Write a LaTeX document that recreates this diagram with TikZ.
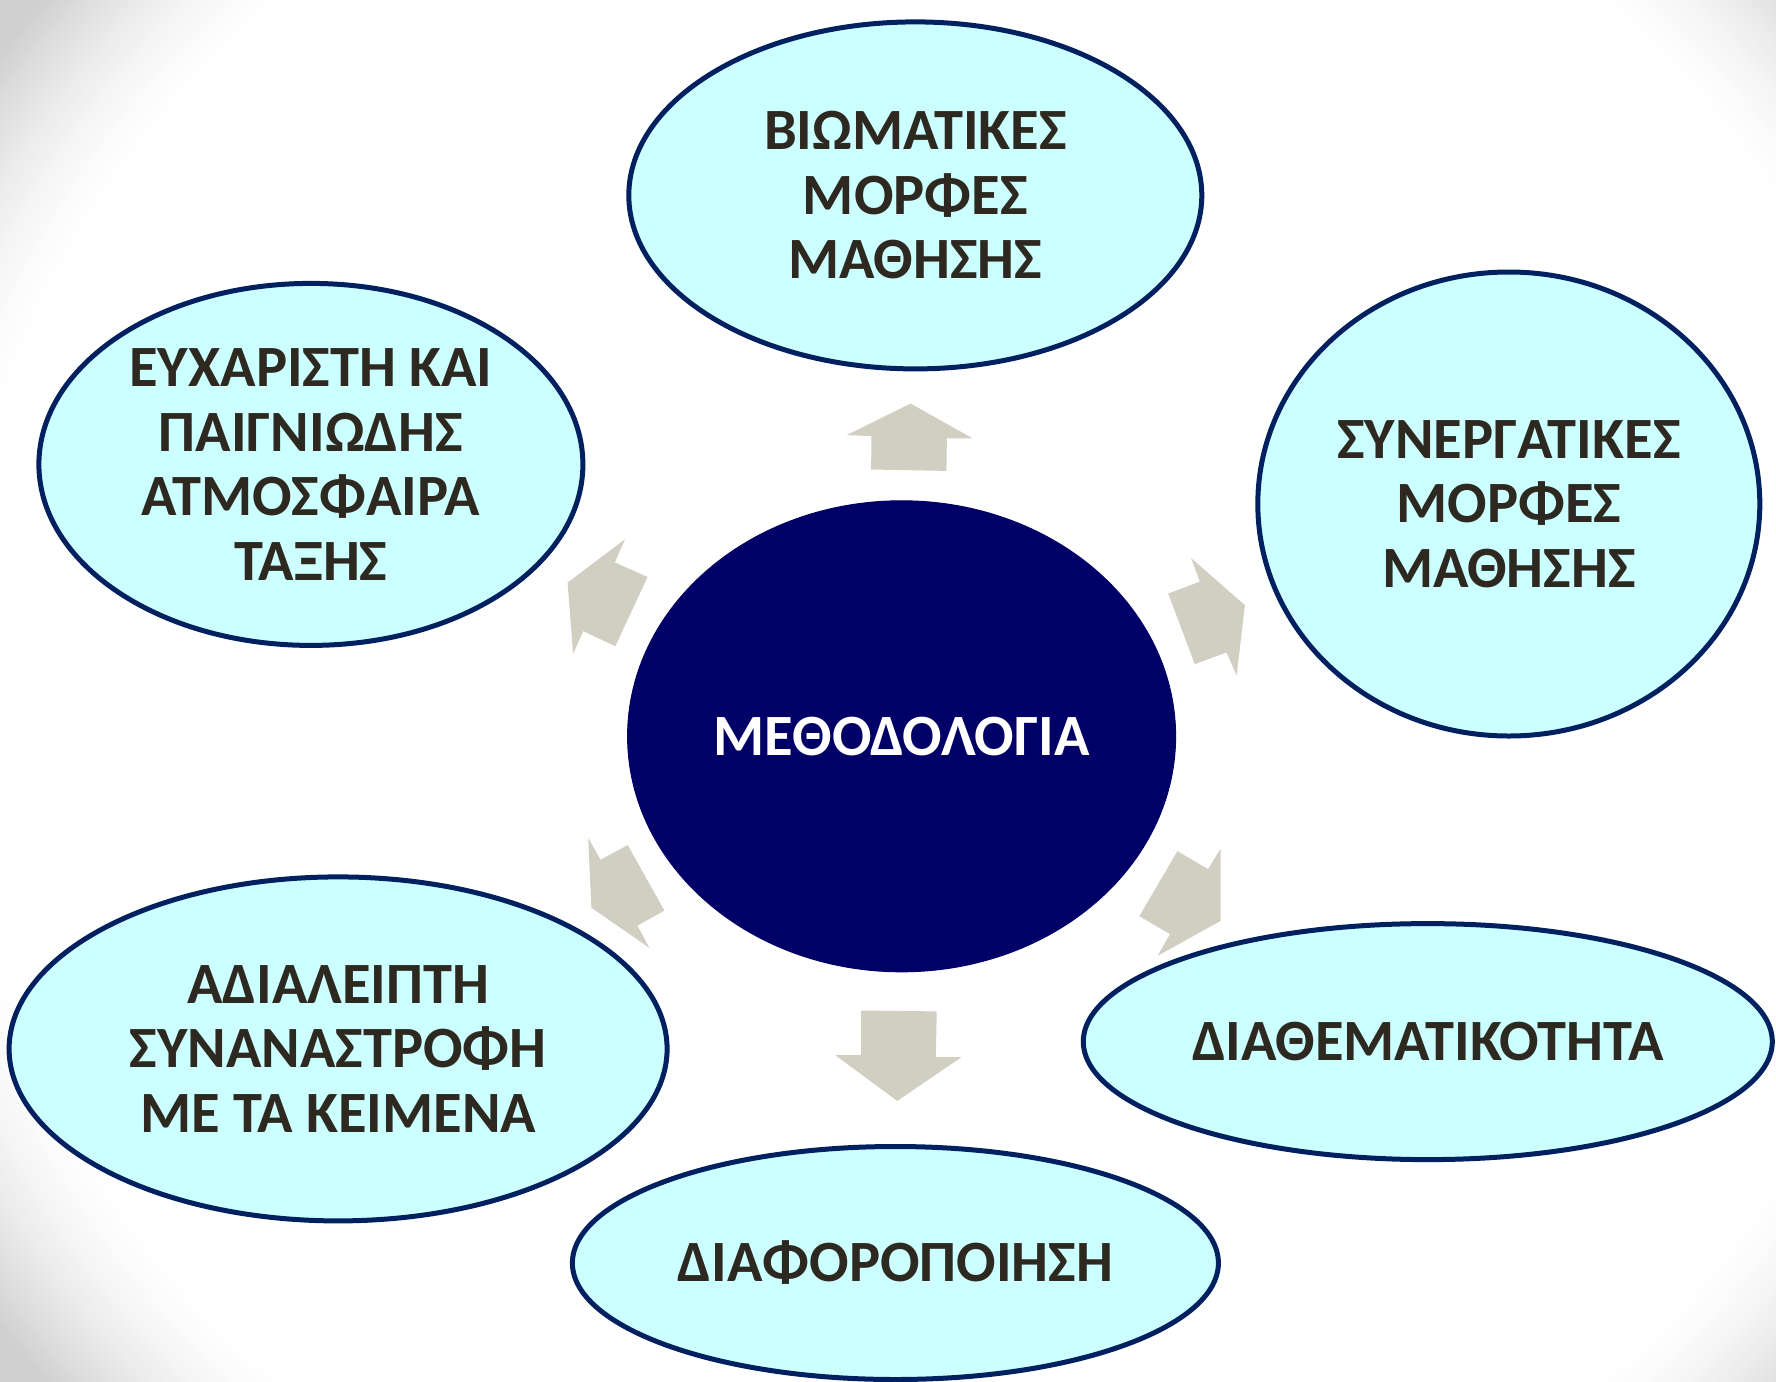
\documentclass[tikz,border=0pt]{standalone}
\usepackage{fontspec}
\setmainfont{Carlito}
\usetikzlibrary{shapes.geometric}
\definecolor{bggray}{RGB}{208,208,208}
\definecolor{bubblefill}{RGB}{204,255,255}
\definecolor{bubbleline}{RGB}{0,32,96}
\definecolor{hubfill}{RGB}{0,0,102}
\definecolor{textdark}{RGB}{46,41,32}
\definecolor{arrowfill}{RGB}{208,207,194}
\begin{document}
\begin{tikzpicture}[x=1pt,y=-1pt,
  bubble/.style={ellipse, draw=bubbleline, line width=5pt, fill=bubblefill, text=textdark,
    inner sep=-20pt, align=center, font=\fontsize{58.5}{64.5}\selectfont\bfseries},
  hub/.style={ellipse, draw=hubfill, line width=1pt, fill=hubfill, text=white,
    inner sep=-20pt, align=center, font=\fontsize{58.5}{64.5}\selectfont\bfseries},
  blockarrow/.style={fill=arrowfill}]
\clip (0,0) rectangle (1776,1381);
% background: soft grey corners fading to white
\foreach \i in {0,...,50}{
  \pgfmathsetmacro{\dd}{1.1-\i*0.00514}
  \pgfmathsetmacro{\tt}{min(1,max(0.0001,(\dd-0.843)/0.157))}
  \pgfmathsetmacro{\pc}{100*pow(\tt,1.6)}
  \fill[bggray!\pc!white] (940,690.5) ellipse [x radius={1158.7*\dd}, y radius={1095.7*\dd}];
}

% block arrows
\fill[blockarrow] (910.6,403.6) -- (972.6,438.4) -- (946.9,438.4) -- (946.4,470.9) -- (871.1,469.5) -- (871.5,436.1) -- (846.7,435.1) -- cycle;
\fill[blockarrow] (567.6,582.6) -- (625.0,539.3) -- (614.8,562.4) -- (647.5,577.0) -- (615.3,646.2) -- (583.2,631.1) -- (573.1,653.8) -- cycle;
\fill[blockarrow] (1244.9,605.2) -- (1236.6,675.4) -- (1226.5,652.4) -- (1194.8,664.1) -- (1168.2,593.5) -- (1199.9,581.7) -- (1191.1,558.1) -- cycle;
\fill[blockarrow] (1220.5,920.9) -- (1157.6,955.8) -- (1170.0,934.1) -- (1139.3,916.2) -- (1177.4,851.2) -- (1208.1,869.1) -- (1220.5,848.8) -- cycle;
\fill[blockarrow] (897.3,1100.9) -- (835.3,1055.2) -- (861.0,1055.2) -- (861.0,1010.5) -- (936.7,1011.4) -- (935.8,1057.1) -- (961.5,1057.1) -- cycle;
\fill[blockarrow] (591.4,907.7) -- (588.2,838.0) -- (600.6,859.7) -- (627.7,845.1) -- (664.4,910.6) -- (637.4,925.6) -- (649.3,947.8) -- cycle;

% ellipses
\node[hub, minimum width=548pt, minimum height=471pt] (hubnode) at (901.6,736.3) {ΜΕΘΟΔΟΛΟΓΙΑ};
\node[bubble, minimum width=573pt, minimum height=347pt] (topnode) at (915.3,195.4) {ΒΙΩΜΑΤΙΚΕΣ\\ΜΟΡΦΕΣ\\ΜΑΘΗΣΗΣ};
\node[bubble, minimum width=544pt, minimum height=362pt] (tlnode) at (310.9,464.4) {ΕΥΧΑΡΙΣΤΗ ΚΑΙ\\ΠΑΙΓΝΙΩΔΗΣ\\ΑΤΜΟΣΦΑΙΡΑ\\ΤΑΞΗΣ};
\node[bubble, minimum width=502pt, minimum height=464pt] (rnode) at (1508.8,504) {ΣΥΝΕΡΓΑΤΙΚΕΣ\\ΜΟΡΦΕΣ\\ΜΑΘΗΣΗΣ};
\node[bubble, minimum width=658pt, minimum height=344pt] (blnode) at (338.1,1048.9) {ΑΔΙΑΛΕΙΠΤΗ\\ΣΥΝΑΝΑΣΤΡΟΦΗ\\ΜΕ ΤΑ ΚΕΙΜΕΝΑ};
\node[bubble, minimum width=689pt, minimum height=236pt] (brnode) at (1427.8,1041.6) {ΔΙΑΘΕΜΑΤΙΚΟΤΗΤΑ};
\node[bubble, minimum width=646pt, minimum height=233pt] (bnode) at (895.4,1263) {ΔΙΑΦΟΡΟΠΟΙΗΣΗ};
\end{tikzpicture}
\end{document}
